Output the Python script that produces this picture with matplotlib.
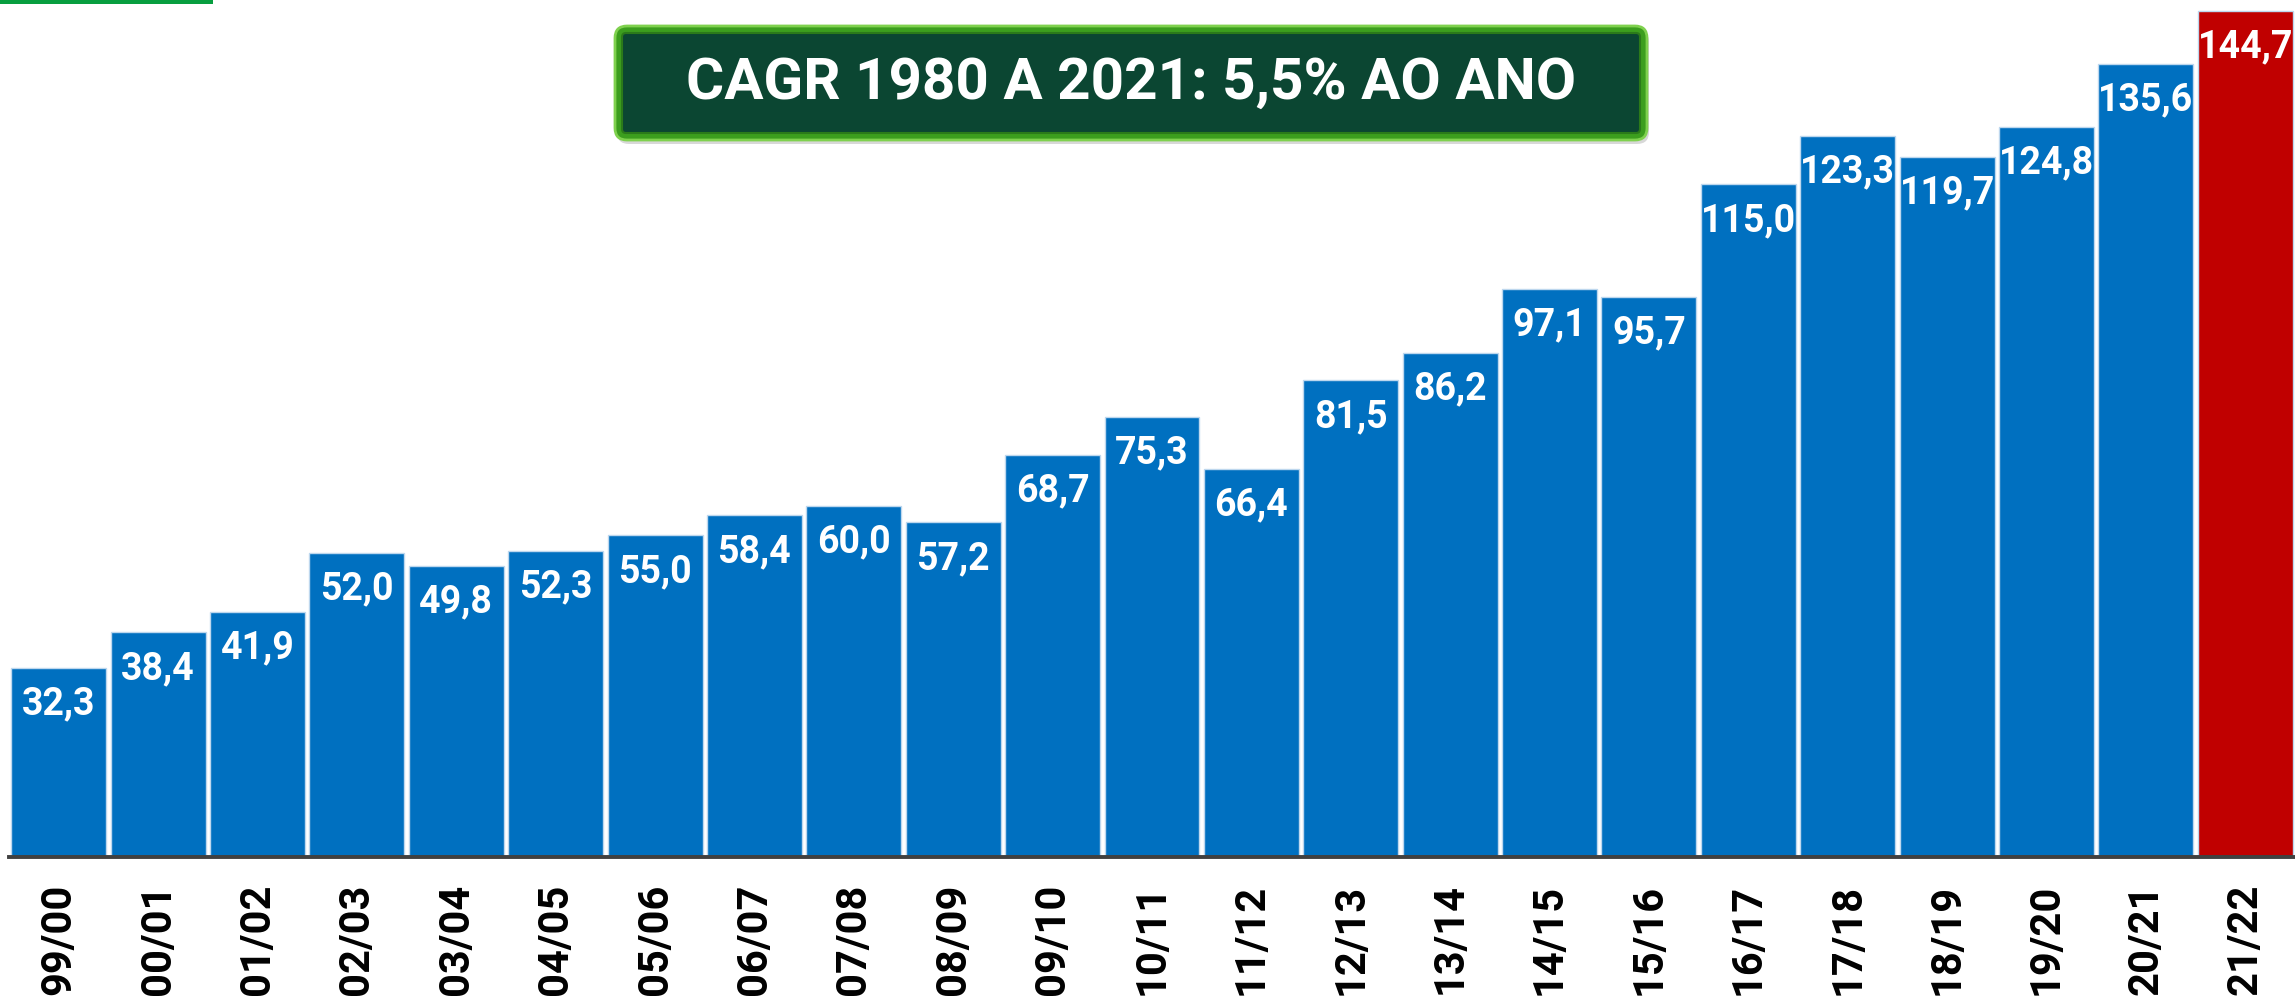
import numpy as np
import matplotlib.pyplot as plt
from matplotlib.patches import FancyBboxPatch, Rectangle

############################################
# data
############################################
safras = ['99/00', '00/01', '01/02', '02/03', '03/04', '04/05', '05/06', '06/07',
          '07/08', '08/09', '09/10', '10/11', '11/12', '12/13', '13/14', '14/15',
          '15/16', '16/17', '17/18', '18/19', '19/20', '20/21', '21/22']
producao = [32.3, 38.4, 41.9, 52.0, 49.8, 52.3, 55.0, 58.4, 60.0, 57.2, 68.7, 75.3,
            66.4, 81.5, 86.2, 97.1, 95.7, 115.0, 123.3, 119.7, 124.8, 135.6, 144.7]
titulo = 'CAGR 1980 A 2021: 5,5% AO ANO'

plt.rcParams['font.family'] = ['Roboto', 'DejaVu Sans']

W, H = 2295, 1007
fig = plt.figure(figsize=(W / 100, H / 100), dpi=100)

############################################
# bars
############################################
ax = fig.add_axes([9 / W, 150 / H, 1 - 9 / W, 1 - 150 / H])
x = np.arange(len(safras))
cores = ['#0070C0'] * (len(safras) - 1) + ['#C00000']
ax.bar(x, producao, width=0.955, color=cores, edgecolor='#BDD7EE', linewidth=1.0)

for xi, v in zip(x, producao):
    ax.annotate(f'{v:.1f}'.replace('.', ','), (xi, v), xytext=(0, -26),
                textcoords='offset points', ha='center', va='center',
                color='white', fontsize=27, fontweight='bold')

ax.set_xlim(-0.5, len(safras) - 0.5)
ax.set_ylim(0, 146.5)
ax.set_xticks(x)
ax.set_xticklabels(safras, rotation=90, fontsize=30, fontweight='bold', color='black')
ax.tick_params(axis='x', length=0, pad=19)
ax.set_yticks([])
for s in ['top', 'right', 'left']:
    ax.spines[s].set_visible(False)
ax.spines['bottom'].set_color('#404040')
ax.spines['bottom'].set_linewidth(2.8)

############################################
# green mark top-left
############################################
fig.add_artist(Rectangle((0, 1 - 4 / H), 213 / W, 4 / H, transform=fig.transFigure,
                         color='#079E3F', lw=0))

############################################
# title box
############################################
bx, by, bw, bh = 615, 26, 1032, 114
axb = fig.add_axes([(bx - 6) / W, 1 - (by + bh + 6) / H, (bw + 12) / W, (bh + 12) / H])
axb.set_xlim(-6, bw + 6)
axb.set_ylim(-6, bh + 6)
axb.axis('off')
axb.add_patch(FancyBboxPatch((2, -4), bw, bh, boxstyle='round,pad=0,rounding_size=12',
                             fc='#BFBFBF', ec='none', alpha=0.6))
axb.add_patch(FancyBboxPatch((0, 0), bw, bh, boxstyle='round,pad=0,rounding_size=12',
                             fc='#3C9E1E', ec='#7FD14E', lw=2))
axb.add_patch(FancyBboxPatch((7, 7), bw - 14, bh - 14, boxstyle='round,pad=0,rounding_size=4',
                             fc='#0B4632', ec='#2B7A1A', lw=1.5))
axb.text(bw / 2, bh / 2, titulo, ha='center', va='center', color='white',
         fontsize=42, fontweight='bold')

fig.savefig('out.png', dpi=100)
